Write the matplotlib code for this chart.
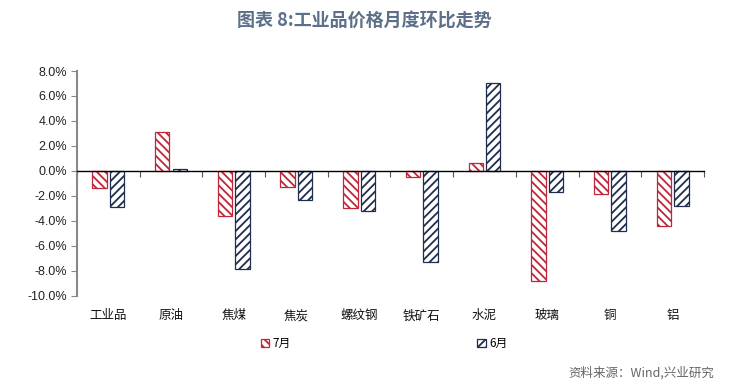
import matplotlib.pyplot as plt
import matplotlib.transforms as mtransforms
import numpy as np

plt.rcParams['font.family'] = ['Liberation Sans', 'Noto Sans CJK SC', 'DejaVu Sans']
plt.rcParams['hatch.linewidth'] = 1.3

categories = ['工业品', '原油', '焦煤', '焦炭', '螺纹钢', '铁矿石', '水泥', '玻璃', '铜', '铝']
jul = [-1.39, 3.15, -3.63, -1.28, -2.99, -0.48, 0.64, -8.79, -1.84, -4.41]
jun = [-2.86, 0.16, -7.83, -2.35, -3.18, -7.29, 7.00, -1.71, -4.83, -2.78]
yticks = np.arange(-10, 9, 2)

red = '#c0263a'
navy = '#1f2d4e'

fig = plt.figure(figsize=(7.29, 3.88), dpi=100)
ax = fig.add_axes([0.1056, 0.238, 0.860, 0.579])

x = np.arange(len(categories))
w = 0.23
ax.bar(x - 0.14, jul, w, facecolor='white', edgecolor=red, hatch='\\\\\\\\', linewidth=0.9, label='7月')
ax.bar(x + 0.14, jun, w, facecolor='white', edgecolor=navy, hatch='////', linewidth=0.9, label='6月')

ax.set_xlim(-0.5, len(categories) - 0.5)
ax.set_ylim(-10, 8)
ax.set_yticks(yticks)
ax.set_yticklabels([f'{v:.1f}%' for v in yticks], fontsize=9, color='#222222')

# category axis sits on the zero line, ticks between categories
ax.spines['bottom'].set_position(('data', 0))
ax.spines['bottom'].set_color('black')
ax.spines['bottom'].set_linewidth(1.0)
ax.set_xticks(np.arange(len(categories) + 1) - 0.5)
ax.set_xticklabels([])
ax.tick_params(axis='x', direction='out', length=4, color='#555555')
ax.tick_params(axis='y', direction='out', length=4, color='#888888', pad=3)
ax.spines['left'].set_color('#888888')
ax.spines['left'].set_linewidth(1.5)
ax.spines['top'].set_visible(False)
ax.spines['right'].set_visible(False)

trans = mtransforms.blended_transform_factory(ax.transData, ax.transAxes)
for i, name in enumerate(categories):
    ax.text(i, -0.09, name, transform=trans, ha='center', va='center', fontsize=9,
            family=['Noto Sans CJK SC', 'DejaVu Sans'], color='#111111')

fig.legend(loc='center', bbox_to_anchor=(0.527, 0.115), ncol=2, frameon=False,
           handlelength=0.7, handleheight=0.7, columnspacing=15.8,
           handletextpad=0.3, prop={'family': ['Noto Sans CJK SC', 'DejaVu Sans'], 'size': 8.5})

fig.text(0.5, 0.945, '图表 8:工业品价格月度环比走势', ha='center', va='center', fontsize=13,
         fontweight='bold', color='#5d7089', family=['Noto Sans CJK SC', 'DejaVu Sans'])
fig.text(0.98, 0.04, '资料来源：Wind,兴业研究', ha='right', va='center', fontsize=9,
         color='#666666', family=['Noto Sans CJK SC', 'DejaVu Sans'])

fig.savefig('out.png', dpi=100)
